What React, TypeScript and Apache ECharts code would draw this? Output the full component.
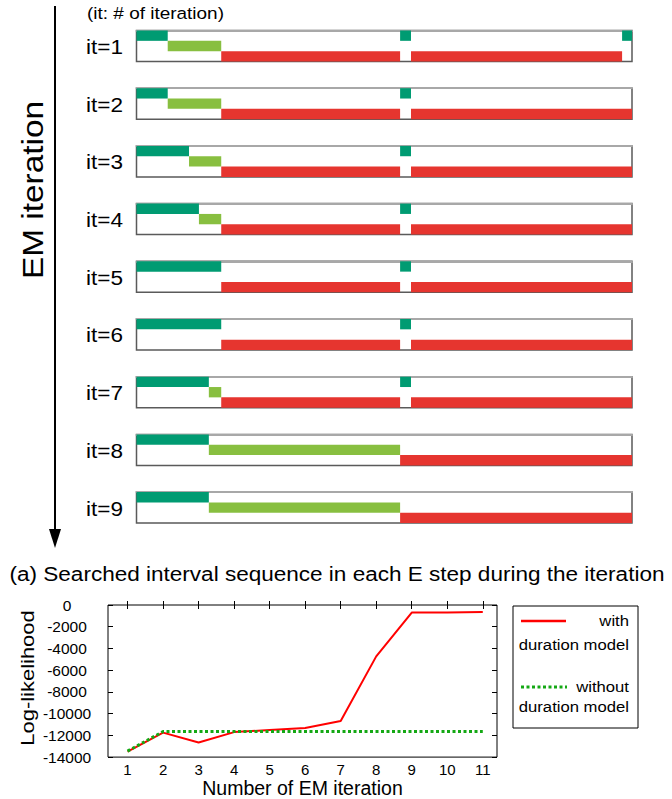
import React, { useEffect, useRef } from 'react';
import * as echarts from 'echarts';

// ---------- Data ----------
const iterationLabels = ['it=1', 'it=2', 'it=3', 'it=4', 'it=5', 'it=6', 'it=7', 'it=8', 'it=9'];
// lane 0 = dark green, lane 1 = light green, lane 2 = red ; [lane, start, end] on a 0..100 time scale
const it1 = [[0, 0, 6.3], [0, 53.2, 55.4], [0, 98, 100], [1, 6.3, 17.1], [2, 17.1, 53.2], [2, 55.4, 98]];
const it2 = [[0, 0, 6.3], [0, 53.2, 55.4], [1, 6.3, 17.1], [2, 17.1, 53.2], [2, 55.4, 100]];
const it3 = [[0, 0, 10.6], [0, 53.2, 55.4], [1, 10.6, 17.1], [2, 17.1, 53.2], [2, 55.4, 100]];
const it4 = [[0, 0, 12.6], [0, 53.2, 55.4], [1, 12.6, 17.1], [2, 17.1, 53.2], [2, 55.4, 100]];
const it5 = [[0, 0, 17.1], [0, 53.2, 55.4], [2, 17.1, 53.2], [2, 55.4, 100]];
const it6 = [[0, 0, 17.1], [0, 53.2, 55.4], [2, 17.1, 53.2], [2, 55.4, 100]];
const it7 = [[0, 0, 14.6], [0, 53.2, 55.4], [1, 14.6, 17.1], [2, 17.1, 53.2], [2, 55.4, 100]];
const it8 = [[0, 0, 14.6], [1, 14.6, 53.2], [2, 53.2, 100]];
const it9 = [[0, 0, 14.6], [1, 14.6, 53.2], [2, 53.2, 100]];
const iterationSegments = [it1, it2, it3, it4, it5, it6, it7, it8, it9];
const laneColors = ['#009b72', '#88bf40', '#e6352f'];

const emIterations = [1, 2, 3, 4, 5, 6, 7, 8, 9, 10, 11];
const withDuration = [-13500, -11750, -12650, -11700, -11500, -11320, -10680, -4730, -700, -680, -650];
const withoutDuration = [-13450, -11650, -11650, -11650, -11650, -11650, -11650, -11650, -11650, -11650, -11650];

const FONT = 'Liberation Sans, Arial, sans-serif';
const SX = 1.15;

export default function App() {
  const ref = useRef<HTMLDivElement>(null);
  useEffect(() => {
    document.body.style.margin = '0';
    const chart = echarts.init(ref.current!, null, { renderer: 'svg' });

    const rowTop = (i: number) => 30.5 + 57.7 * i;
    const rowH = 31;
    const grids: any[] = [];
    const xAxes: any[] = [];
    const yAxes: any[] = [];
    const series: any[] = [];
    const graphics: any[] = [];

    iterationSegments.forEach((segs, i) => {
      grids.push({
        left: 136.5, top: rowTop(i), width: 495.5, height: rowH,
        show: true, borderColor: '#5a5a5a', borderWidth: 1.5, backgroundColor: '#fff',
      });
      xAxes.push({
        gridIndex: i, type: 'value', min: 0, max: 100,
        axisLine: { show: true, lineStyle: { color: '#a8a8a8', width: 2 } },
        axisTick: { show: false }, axisLabel: { show: false }, splitLine: { show: false },
      });
      yAxes.push({
        gridIndex: i, type: 'value', min: 0, max: 3, inverse: true, show: false,
        splitLine: { show: false },
      });
      series.push({
        type: 'custom', xAxisIndex: i, yAxisIndex: i,
        encode: { x: [1, 2], y: 0 },
        data: segs,
        renderItem: (params: any, api: any) => {
          const lane = api.value(0);
          const s = api.value(1);
          const e = api.value(2);
          const p0 = api.coord([s, lane]);
          const p1 = api.coord([e, lane + 1]);
          return {
            type: 'rect',
            shape: { x: p0[0], y: p0[1], width: p1[0] - p0[0], height: p1[1] - p0[1] },
            style: { fill: laneColors[lane] },
          };
        },
      });
      graphics.push({
        type: 'text', x: 86, y: rowTop(i) + rowH / 2 + 1, scaleX: SX,
        style: { text: iterationLabels[i], font: `19.6px ${FONT}`, fill: '#000', textAlign: 'left', textVerticalAlign: 'middle' },
      });
    });

    // bottom line chart
    const gi = iterationSegments.length;
    grids.push({ left: 108, top: 605, width: 389, height: 153, show: true, borderColor: '#000', borderWidth: 1 });
    xAxes.push({
      gridIndex: gi, type: 'value', min: 0.45, max: 11.4, position: 'bottom',
      name: 'Number of EM iteration', nameLocation: 'middle', nameGap: 18,
      nameTextStyle: { fontFamily: FONT, fontSize: 19.5, color: '#000' },
      axisLine: { show: false },
      axisTick: { show: true, inside: true, length: 4, customValues: emIterations, lineStyle: { color: '#000' } },
      axisLabel: { show: true, customValues: emIterations, fontFamily: FONT, fontSize: 15, color: '#000', margin: 5 },
      splitLine: { show: false },
    });
    xAxes.push({
      gridIndex: gi, type: 'value', min: 0.45, max: 11.4, position: 'top',
      axisLine: { show: false },
      axisTick: { show: true, inside: true, length: 4, customValues: emIterations, lineStyle: { color: '#000' } },
      axisLabel: { show: false }, splitLine: { show: false },
    });
    yAxes.push({
      gridIndex: gi, type: 'value', min: -14000, max: 0, interval: 2000, position: 'left',
      axisLine: { show: false },
      axisTick: { show: true, inside: true, length: 5, lineStyle: { color: '#000' } },
      axisLabel: {
        fontFamily: FONT, fontSize: 15.5, color: '#000', align: 'center', margin: 41,
        formatter: (v: number) => String(v),
      },
      splitLine: { show: false },
    });
    yAxes.push({
      gridIndex: gi, type: 'value', min: -14000, max: 0, interval: 2000, position: 'right',
      axisLine: { show: false },
      axisTick: { show: true, inside: true, length: 5, lineStyle: { color: '#000' } },
      axisLabel: { show: false }, splitLine: { show: false },
    });
    series.push({
      name: 'with duration model', type: 'line', xAxisIndex: gi, yAxisIndex: gi,
      data: emIterations.map((x, k) => [x, withDuration[k]]),
      symbol: 'none', lineStyle: { color: '#ff0000', width: 2 }, itemStyle: { color: '#ff0000' },
    });
    series.push({
      name: 'without duration model', type: 'line', xAxisIndex: gi, yAxisIndex: gi,
      data: emIterations.map((x, k) => [x, withoutDuration[k]]),
      symbol: 'none', lineStyle: { color: '#14a814', width: 3, type: [3, 2.5] }, itemStyle: { color: '#14a814' },
    });

    // decorations
    graphics.push(
      {
        type: 'text', x: 87, y: 13, scaleX: SX,
        style: { text: '(it: # of iteration)', font: `16.5px ${FONT}`, fill: '#000', textAlign: 'left', textVerticalAlign: 'middle' },
      },
      {
        type: 'line', shape: { x1: 55, y1: 6, x2: 55, y2: 532 }, style: { stroke: '#000', lineWidth: 2 },
      },
      {
        type: 'polygon', shape: { points: [[49, 529], [61, 529], [55, 548]] }, style: { fill: '#000' },
      },
      {
        type: 'text', x: 33, y: 190, rotation: Math.PI / 2, scaleX: SX,
        style: { text: 'EM iteration', font: `29px ${FONT}`, fill: '#000', textAlign: 'center', textVerticalAlign: 'middle' },
      },
      {
        type: 'text', x: 337, y: 574, scaleX: SX,
        style: { text: '(a) Searched interval sequence in each E step during the iteration', font: `19.6px ${FONT}`, fill: '#000', textAlign: 'center', textVerticalAlign: 'middle' },
      },
      {
        type: 'text', x: 28, y: 678, rotation: Math.PI / 2, scaleX: 1.22,
        style: { text: 'Log-likelihood', font: `18px ${FONT}`, fill: '#000', textAlign: 'center', textVerticalAlign: 'middle' },
      },
      // legend
      {
        type: 'rect', shape: { x: 513, y: 606, width: 125, height: 122 }, style: { fill: '#fff', stroke: '#000', lineWidth: 1 },
      },
      {
        type: 'line', shape: { x1: 521, y1: 621, x2: 566, y2: 621 }, style: { stroke: '#ff0000', lineWidth: 2.5 },
      },
      {
        type: 'text', x: 629, y: 621, scaleX: SX,
        style: { text: 'with', font: `14.5px ${FONT}`, fill: '#000', textAlign: 'right', textVerticalAlign: 'middle' },
      },
      {
        type: 'text', x: 629, y: 645, scaleX: SX,
        style: { text: 'duration model', font: `14.5px ${FONT}`, fill: '#000', textAlign: 'right', textVerticalAlign: 'middle' },
      },
      {
        type: 'line', shape: { x1: 521, y1: 687, x2: 567, y2: 687 }, style: { stroke: '#14a814', lineWidth: 3, lineDash: [3, 2.5] },
      },
      {
        type: 'text', x: 629, y: 687, scaleX: SX,
        style: { text: 'without', font: `14.5px ${FONT}`, fill: '#000', textAlign: 'right', textVerticalAlign: 'middle' },
      },
      {
        type: 'text', x: 629, y: 707, scaleX: SX,
        style: { text: 'duration model', font: `14.5px ${FONT}`, fill: '#000', textAlign: 'right', textVerticalAlign: 'middle' },
      },
    );

    chart.setOption({
      animation: false,
      backgroundColor: '#fff',
      textStyle: { fontFamily: FONT },
      grid: grids,
      xAxis: xAxes,
      yAxis: yAxes,
      series,
      graphic: graphics,
    });
    return () => chart.dispose();
  }, []);
  return <div ref={ref} style={{ width: 672, height: 799 }} />;
}
